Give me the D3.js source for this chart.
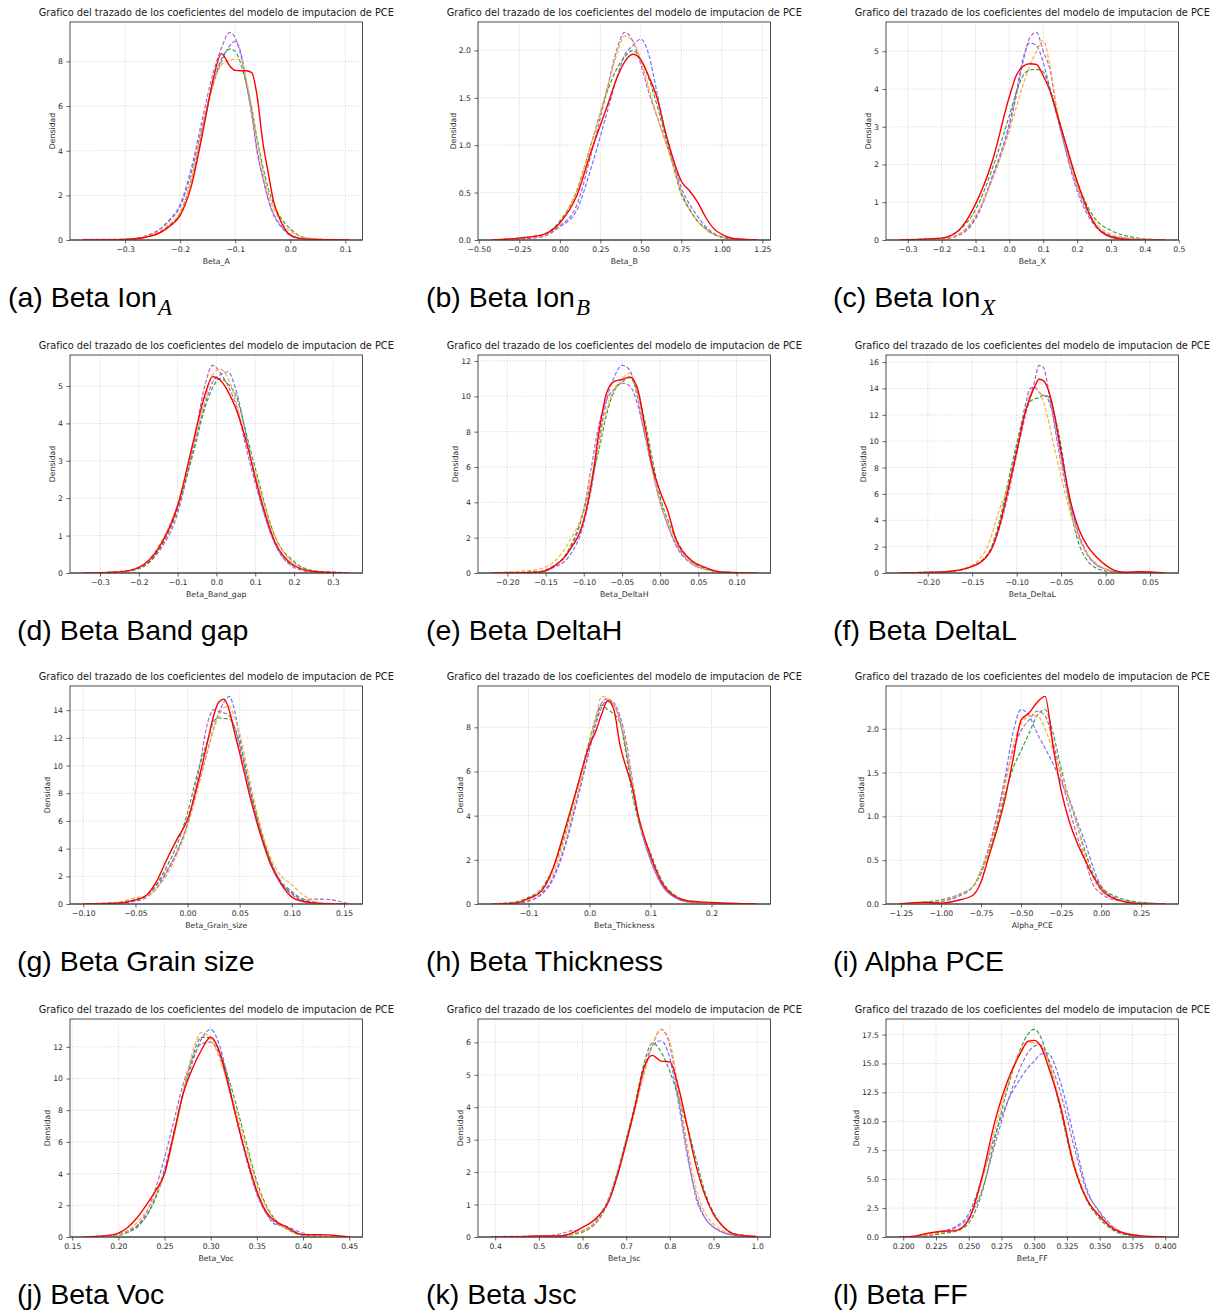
<!DOCTYPE html>
<html lang="es">
<head>
<meta charset="utf-8">
<title>Coeficientes del modelo de imputacion de PCE</title>
<script src="https://cdn.jsdelivr.net/npm/d3@7"></script>
<style>
  body { margin: 0; background: #ffffff; }
  #chart { display: block; }
</style>
</head>
<body>
<svg id="chart" width="1222" height="1314"></svg>
<script>
// ---------------------------------------------------------------
// data: kde curves, one x grid per panel and
// five density series per panel (4 dashed imputations + the red one)
// ---------------------------------------------------------------
const seriesNames = ["imputacion_1", "imputacion_2", "imputacion_3", "imputacion_4", "referencia"];

const title = "Grafico del trazado de los coeficientes del modelo de imputacion de PCE";
const yLabel = "Densidad";
const xLabels = ["Beta_A", "Beta_B", "Beta_X", "Beta_Band_gap", "Beta_DeltaH", "Beta_DeltaL",
                 "Beta_Grain_size", "Beta_Thickness", "Alpha_PCE", "Beta_Voc", "Beta_Jsc", "Beta_FF"];
const captions = ["(a) Beta Ion", "(b) Beta Ion", "(c) Beta Ion", "(d) Beta Band gap", "(e) Beta DeltaH",
                  "(f) Beta DeltaL", "(g) Beta Grain size", "(h) Beta Thickness", "(i) Alpha PCE",
                  "(j) Beta Voc", "(k) Beta Jsc", "(l) Beta FF"];
const captionSubs = ["A", "B", "X", "", "", "", "", "", "", "", "", ""];

// (a) Beta_A
const gridA = [-0.376, -0.3, -0.25, -0.22, -0.2, -0.18, -0.16, -0.14, -0.125, -0.11, -0.1, -0.09, -0.08, -0.07, -0.06, -0.05, -0.04, -0.03, -0.02, -0.01, 0, 0.02, 0.05, 0.107];
const densA = [
  [0.01, 0.03, 0.3, 0.85, 1.5, 3.0, 5.1, 7.0, 8.0, 8.7, 8.9, 8.4, 7.1, 5.7, 4.0, 2.8, 1.8, 1.1, 0.7, 0.4, 0.2, 0.05, 0.01, 0],
  [0.03, 0.03, 0.3, 0.9, 1.6, 3.2, 5.4, 7.5, 8.6, 9.3, 9.05, 8.3, 7.0, 5.6, 3.9, 2.8, 1.85, 1.15, 0.75, 0.45, 0.25, 0.07, 0.01, 0],
  [0, 0.02, 0.2, 0.65, 1.2, 2.7, 4.9, 7.0, 8.1, 8.55, 8.45, 7.9, 7.0, 5.9, 4.5, 3.3, 2.3, 1.6, 1.1, 0.75, 0.5, 0.15, 0.03, 0],
  [0, 0.03, 0.25, 0.7, 1.25, 2.7, 5.0, 7.0, 7.85, 8.05, 8.1, 8.05, 7.2, 5.9, 4.4, 3.1, 2.1, 1.4, 0.95, 0.6, 0.4, 0.15, 0.05, 0.01],
  [0, 0.02, 0.2, 0.6, 1.1, 2.4, 4.7, 7.2, 8.35, 7.8, 7.6, 7.58, 7.58, 7.5, 6.4, 4.4, 3.0, 1.7, 1.0, 0.5, 0.22, 0.06, 0.02, 0]
];
const xTicksA = [-0.3, -0.2, -0.1, 0, 0.1];
const yTicksA = [0, 2, 4, 6, 8];

// (b) Beta_B
const gridB = [-0.423, -0.25, -0.1, 0, 0.1, 0.2, 0.3, 0.35, 0.4, 0.45, 0.5, 0.55, 0.6, 0.65, 0.7, 0.75, 0.8, 0.85, 0.9, 0.95, 1.0, 1.1, 1.218];
const densB = [
  [0, 0.01, 0.04, 0.14, 0.3, 0.8, 1.4, 1.7, 1.95, 2.05, 2.12, 1.95, 1.55, 1.15, 0.85, 0.55, 0.38, 0.25, 0.14, 0.07, 0.03, 0.01, 0],
  [0, 0.01, 0.04, 0.15, 0.35, 0.95, 1.65, 2.0, 2.19, 2.1, 1.85, 1.55, 1.3, 1.05, 0.8, 0.5, 0.33, 0.2, 0.12, 0.06, 0.03, 0, 0],
  [0, 0.02, 0.06, 0.2, 0.5, 1.05, 1.6, 1.8, 1.93, 2.0, 1.9, 1.7, 1.42, 1.1, 0.78, 0.48, 0.32, 0.2, 0.12, 0.06, 0.03, 0.01, 0],
  [0, 0.02, 0.05, 0.18, 0.5, 1.05, 1.65, 1.95, 2.15, 2.1, 1.9, 1.6, 1.3, 1.05, 0.78, 0.5, 0.33, 0.2, 0.11, 0.06, 0.03, 0.01, 0],
  [0, 0.02, 0.06, 0.18, 0.45, 0.97, 1.45, 1.7, 1.88, 1.96, 1.9, 1.72, 1.5, 1.15, 0.85, 0.62, 0.52, 0.4, 0.24, 0.12, 0.06, 0.01, 0]
];
const xTicksB = [-0.5, -0.25, 0, 0.25, 0.5, 0.75, 1.0, 1.25];
const yTicksB = [0, 0.5, 1.0, 1.5, 2.0];

// (c) Beta_X
const gridC = [-0.325, -0.2, -0.15, -0.1, -0.05, 0, 0.02, 0.04, 0.06, 0.08, 0.1, 0.12, 0.14, 0.16, 0.2, 0.25, 0.3, 0.35, 0.4, 0.46];
const densC = [
  [0, 0.03, 0.15, 0.6, 1.7, 3.1, 3.9, 4.8, 5.22, 5.15, 4.7, 4.0, 3.3, 2.6, 1.4, 0.45, 0.12, 0.05, 0.02, 0],
  [0, 0.02, 0.12, 0.55, 1.65, 3.0, 3.8, 4.7, 5.35, 5.5, 5.0, 4.5, 3.4, 2.6, 1.3, 0.4, 0.1, 0.03, 0.01, 0],
  [0.01, 0.05, 0.25, 0.8, 1.9, 3.3, 3.9, 4.35, 4.5, 4.52, 4.45, 4.0, 3.4, 2.75, 1.55, 0.6, 0.25, 0.1, 0.03, 0],
  [0, 0.03, 0.15, 0.65, 1.6, 2.9, 3.5, 4.1, 4.6, 5.0, 5.28, 4.6, 3.5, 2.7, 1.45, 0.5, 0.15, 0.05, 0.02, 0],
  [0, 0.05, 0.25, 0.95, 2.1, 3.8, 4.35, 4.6, 4.67, 4.65, 4.35, 3.95, 3.35, 2.75, 1.55, 0.45, 0.08, 0.01, 0, 0]
];
const xTicksC = [-0.3, -0.2, -0.1, 0, 0.1, 0.2, 0.3, 0.4, 0.5];
const yTicksC = [0, 1, 2, 3, 4, 5];

// (d) Beta_Band_gap
const gridD = [-0.343, -0.25, -0.2, -0.15, -0.1, -0.06, -0.03, -0.01, 0.01, 0.03, 0.05, 0.08, 0.1, 0.15, 0.2, 0.25, 0.3, 0.342];
const densD = [
  [0, 0.02, 0.12, 0.6, 1.7, 3.3, 4.5, 5.1, 5.3, 5.38, 4.9, 3.5, 2.5, 0.8, 0.18, 0.05, 0.03, 0],
  [0, 0.03, 0.12, 0.55, 1.6, 3.4, 5.0, 5.55, 5.35, 5.0, 4.5, 3.2, 2.4, 0.8, 0.15, 0.02, 0.01, 0],
  [0, 0.04, 0.12, 0.6, 1.75, 3.2, 4.4, 4.95, 5.2, 5.05, 4.75, 3.6, 2.8, 1.0, 0.3, 0.06, 0.01, 0],
  [0, 0.03, 0.15, 0.7, 1.85, 3.4, 4.6, 5.3, 5.45, 5.2, 4.6, 3.35, 2.65, 1.0, 0.25, 0.05, 0.01, 0],
  [0, 0.03, 0.15, 0.65, 1.8, 3.5, 4.75, 5.25, 5.15, 4.85, 4.4, 3.4, 2.55, 0.85, 0.2, 0.04, 0.01, 0]
];
const xTicksD = [-0.3, -0.2, -0.1, 0, 0.1, 0.2, 0.3];
const yTicksD = [0, 1, 2, 3, 4, 5];

// (e) Beta_DeltaH
const gridE = [-0.221, -0.16, -0.14, -0.12, -0.1, -0.09, -0.08, -0.07, -0.06, -0.05, -0.04, -0.03, -0.02, -0.01, 0, 0.01, 0.02, 0.04, 0.06, 0.08, 0.127];
const densE = [
  [0.02, 0.05, 0.3, 0.9, 2.8, 4.8, 7.5, 9.8, 11.1, 11.75, 11.5, 10.0, 7.8, 5.8, 4.0, 2.7, 1.7, 0.6, 0.2, 0.08, 0],
  [0.02, 0.08, 0.4, 1.2, 3.6, 6.0, 8.4, 9.8, 10.4, 10.75, 10.6, 9.6, 7.8, 5.8, 4.0, 2.7, 1.6, 0.55, 0.2, 0.05, 0],
  [0, 0.06, 0.35, 1.3, 3.5, 5.2, 7.0, 9.0, 10.3, 10.8, 11.05, 10.3, 8.6, 6.4, 4.3, 3.0, 2.0, 0.7, 0.25, 0.05, 0],
  [0.01, 0.2, 0.6, 1.7, 3.6, 5.4, 7.4, 9.3, 10.4, 11.0, 11.3, 10.2, 8.0, 5.8, 4.0, 2.8, 1.8, 0.6, 0.2, 0.05, 0],
  [0, 0.05, 0.35, 1.2, 3.0, 5.0, 8.0, 10.2, 10.85, 10.95, 11.1, 10.5, 8.3, 6.0, 4.6, 3.5, 2.0, 0.75, 0.3, 0.05, 0]
];
const xTicksE = [-0.2, -0.15, -0.1, -0.05, 0, 0.05, 0.1];
const yTicksE = [0, 2, 4, 6, 8, 10, 12];

// (f) Beta_DeltaL
const gridF = [-0.232, -0.18, -0.15, -0.13, -0.12, -0.11, -0.1, -0.09, -0.085, -0.08, -0.075, -0.07, -0.065, -0.06, -0.05, -0.04, -0.03, -0.02, -0.01, 0, 0.01, 0.02, 0.04, 0.067];
const densF = [
  [0.01, 0.1, 0.5, 1.7, 3.5, 6.3, 9.6, 12.8, 14.0, 14.1, 13.7, 13.5, 13.2, 12.2, 8.8, 5.5, 2.9, 1.4, 0.6, 0.3, 0.1, 0.04, 0.02, 0],
  [0.02, 0.1, 0.5, 1.6, 3.3, 5.8, 9.0, 12.0, 13.3, 14.5, 15.75, 15.6, 14.2, 12.2, 8.3, 5.2, 2.8, 1.3, 0.6, 0.3, 0.1, 0.05, 0.02, 0],
  [0.02, 0.1, 0.5, 1.7, 3.8, 6.8, 9.8, 12.3, 13.0, 13.2, 13.3, 13.5, 13.4, 12.6, 9.6, 5.0, 2.2, 0.9, 0.35, 0.15, 0.05, 0.02, 0, 0],
  [0.01, 0.1, 0.6, 2.5, 4.7, 6.5, 9.2, 12.3, 13.6, 14.0, 13.8, 13.0, 11.8, 10.2, 7.3, 4.6, 2.6, 1.4, 0.7, 0.3, 0.1, 0.04, 0.01, 0],
  [0, 0.1, 0.5, 1.6, 3.4, 6.2, 9.2, 12.3, 13.3, 14.1, 14.7, 14.6, 14.0, 12.8, 9.2, 5.6, 3.3, 2.0, 1.2, 0.6, 0.2, 0.06, 0.1, 0]
];
const xTicksF = [-0.2, -0.15, -0.1, -0.05, 0, 0.05];
const yTicksF = [0, 2, 4, 6, 8, 10, 12, 14, 16];

// (g) Beta_Grain_size
const gridG = [-0.1, -0.07, -0.05, -0.04, -0.03, -0.02, -0.01, 0, 0.01, 0.02, 0.025, 0.03, 0.035, 0.04, 0.045, 0.05, 0.06, 0.07, 0.08, 0.09, 0.1, 0.11, 0.12, 0.13, 0.155];
const densG = [
  [0.01, 0.05, 0.2, 0.45, 1.1, 2.3, 3.8, 5.8, 8.5, 11.3, 12.7, 13.8, 14.6, 15.0, 14.0, 12.0, 8.2, 5.2, 3.0, 1.6, 0.9, 0.4, 0.15, 0.05, 0],
  [0.01, 0.08, 0.3, 0.6, 1.3, 2.4, 3.8, 5.8, 9.3, 13.3, 14.05, 13.9, 13.8, 13.6, 12.8, 11.3, 8.0, 5.2, 3.0, 1.5, 0.7, 0.3, 0.35, 0.35, 0],
  [0.02, 0.1, 0.3, 0.6, 1.4, 2.7, 4.3, 6.6, 9.6, 12.0, 13.2, 13.45, 13.4, 13.35, 12.8, 11.6, 8.4, 5.4, 3.0, 1.5, 0.8, 0.3, 0.1, 0.03, 0],
  [0.02, 0.1, 0.45, 0.6, 1.1, 2.1, 3.6, 5.6, 8.4, 11.3, 12.6, 13.6, 14.2, 14.3, 13.5, 12.3, 8.8, 5.6, 3.3, 2.0, 1.4, 0.7, 0.25, 0.08, 0],
  [0, 0.05, 0.3, 0.6, 1.6, 3.2, 4.7, 6.1, 8.8, 12.0, 13.6, 14.6, 14.8, 14.0, 12.4, 10.9, 7.7, 5.0, 2.8, 1.4, 0.5, 0.2, 0.08, 0.02, 0]
];
const xTicksG = [-0.1, -0.05, 0, 0.05, 0.1, 0.15];
const yTicksG = [0, 2, 4, 6, 8, 10, 12, 14];

// (h) Beta_Thickness
const gridH = [-0.161, -0.12, -0.1, -0.08, -0.06, -0.04, -0.02, 0, 0.01, 0.02, 0.03, 0.04, 0.05, 0.06, 0.07, 0.08, 0.1, 0.12, 0.14, 0.16, 0.2, 0.275];
const densH = [
  [0.02, 0.04, 0.15, 0.4, 1.1, 2.6, 4.7, 7.0, 8.2, 9.1, 9.3, 9.0, 8.3, 7.0, 5.4, 3.9, 2.0, 0.8, 0.3, 0.1, 0.03, 0],
  [0.01, 0.03, 0.12, 0.45, 1.2, 2.7, 4.8, 7.0, 8.1, 8.9, 9.2, 9.1, 8.5, 7.4, 5.7, 4.0, 2.0, 0.8, 0.3, 0.1, 0.03, 0.01],
  [0.01, 0.1, 0.3, 0.65, 1.6, 3.2, 5.3, 7.4, 8.4, 9.0, 8.8, 8.6, 8.2, 6.8, 5.0, 3.8, 2.3, 1.0, 0.4, 0.15, 0.04, 0],
  [0.01, 0.07, 0.2, 0.6, 1.4, 3.0, 5.0, 7.3, 8.4, 9.4, 9.3, 9.0, 8.3, 7.2, 5.6, 4.0, 2.2, 0.9, 0.35, 0.12, 0.04, 0],
  [0, 0.05, 0.25, 0.55, 1.6, 3.4, 5.3, 7.2, 7.8, 8.6, 9.2, 8.8, 7.2, 6.2, 5.3, 4.0, 2.2, 0.9, 0.35, 0.15, 0.07, 0]
];
const xTicksH = [-0.1, 0, 0.1, 0.2];
const yTicksH = [0, 2, 4, 6, 8];

// (i) Alpha_PCE
const gridI = [-1.26, -1.1, -1.0, -0.9, -0.8, -0.75, -0.7, -0.65, -0.6, -0.55, -0.5, -0.45, -0.4, -0.35, -0.3, -0.25, -0.2, -0.15, -0.1, -0.05, 0, 0.1, 0.2, 0.3, 0.4];
const densI = [
  [0, 0.01, 0.03, 0.08, 0.2, 0.38, 0.65, 1.0, 1.45, 1.95, 2.22, 2.15, 1.95, 1.78, 1.6, 1.4, 1.2, 0.95, 0.7, 0.42, 0.2, 0.06, 0.02, 0.01, 0],
  [0, 0.01, 0.03, 0.1, 0.2, 0.38, 0.65, 1.0, 1.4, 1.75, 1.98, 2.1, 2.2, 2.15, 1.85, 1.45, 1.1, 0.78, 0.5, 0.22, 0.12, 0.04, 0.02, 0, 0],
  [0, 0.02, 0.05, 0.1, 0.2, 0.35, 0.6, 0.9, 1.25, 1.55, 1.75, 1.95, 2.15, 2.22, 1.95, 1.55, 1.2, 0.9, 0.6, 0.35, 0.2, 0.08, 0.03, 0.01, 0],
  [0, 0.01, 0.04, 0.1, 0.2, 0.38, 0.62, 0.95, 1.35, 1.8, 2.05, 2.15, 2.15, 2.0, 1.75, 1.5, 1.2, 0.9, 0.55, 0.3, 0.15, 0.05, 0.02, 0, 0],
  [0, 0.02, 0.01, 0.04, 0.1, 0.25, 0.55, 0.85, 1.2, 1.65, 2.1, 2.18, 2.3, 2.37, 1.8, 1.3, 0.95, 0.7, 0.5, 0.32, 0.17, 0.05, 0.01, 0, 0]
];
const xTicksI = [-1.25, -1.0, -0.75, -0.5, -0.25, 0, 0.25];
const yTicksI = [0, 0.5, 1.0, 1.5, 2.0];

// (j) Beta_Voc
const gridJ = [0.162, 0.19, 0.2, 0.21, 0.22, 0.23, 0.24, 0.25, 0.26, 0.27, 0.28, 0.29, 0.3, 0.31, 0.32, 0.33, 0.34, 0.35, 0.36, 0.37, 0.38, 0.4, 0.42, 0.45];
const densJ = [
  [0, 0.1, 0.2, 0.4, 0.7, 1.3, 2.5, 4.3, 6.6, 9.0, 11.0, 12.5, 13.1, 12.0, 9.6, 7.0, 4.8, 2.8, 1.5, 0.8, 0.7, 0.25, 0.05, 0],
  [0, 0.1, 0.15, 0.3, 0.7, 1.5, 3.0, 5.0, 7.3, 9.6, 11.2, 12.2, 12.3, 11.4, 9.3, 6.9, 4.6, 2.7, 1.5, 0.9, 0.6, 0.15, 0.05, 0],
  [0, 0.05, 0.1, 0.3, 0.6, 1.3, 2.4, 4.1, 6.4, 9.1, 11.3, 12.6, 12.6, 11.6, 9.9, 7.8, 5.6, 3.5, 2.0, 1.1, 0.6, 0.12, 0.05, 0],
  [0, 0.05, 0.15, 0.4, 0.9, 1.6, 2.6, 4.0, 6.3, 9.0, 11.6, 12.9, 12.5, 11.2, 9.4, 7.4, 5.3, 3.3, 1.9, 1.1, 0.6, 0.15, 0.05, 0],
  [0, 0.1, 0.25, 0.6, 1.2, 2.0, 2.9, 4.0, 6.5, 9.0, 10.6, 11.8, 12.6, 11.6, 9.4, 7.0, 4.8, 2.9, 1.6, 1.0, 0.7, 0.15, 0.15, 0]
];
const xTicksJ = [0.15, 0.2, 0.25, 0.3, 0.35, 0.4, 0.45];
const yTicksJ = [0, 2, 4, 6, 8, 10, 12];

// (k) Beta_Jsc
const gridK = [0.391, 0.45, 0.5, 0.55, 0.58, 0.6, 0.62, 0.64, 0.66, 0.68, 0.7, 0.72, 0.74, 0.76, 0.78, 0.8, 0.82, 0.84, 0.86, 0.88, 0.9, 0.92, 0.95, 1.0];
const densK = [
  [0, 0.01, 0.02, 0.05, 0.12, 0.2, 0.35, 0.7, 1.2, 2.0, 3.0, 4.0, 5.1, 5.9, 6.05, 5.5, 4.1, 2.5, 1.3, 0.6, 0.3, 0.15, 0.05, 0.01],
  [0.01, 0.02, 0.01, 0.1, 0.2, 0.2, 0.3, 0.6, 1.1, 1.9, 3.0, 4.0, 5.0, 5.9, 6.4, 5.9, 4.3, 2.6, 1.2, 0.6, 0.3, 0.15, 0.05, 0.01],
  [0, 0.01, 0.02, 0.03, 0.08, 0.15, 0.3, 0.6, 1.15, 2.0, 3.0, 4.1, 5.3, 5.98, 5.7, 5.1, 4.3, 3.4, 2.4, 1.4, 0.75, 0.35, 0.1, 0.02],
  [0, 0.01, 0.02, 0.04, 0.1, 0.2, 0.33, 0.65, 1.15, 1.9, 2.9, 3.9, 5.0, 5.9, 6.4, 6.0, 4.5, 2.8, 1.5, 0.75, 0.4, 0.2, 0.08, 0.02],
  [0, 0.01, 0.03, 0.03, 0.15, 0.3, 0.45, 0.7, 1.1, 1.9, 2.9, 4.0, 5.2, 5.6, 5.42, 5.4, 4.6, 3.4, 2.2, 1.3, 0.7, 0.35, 0.08, 0.01]
];
const xTicksK = [0.4, 0.5, 0.6, 0.7, 0.8, 0.9, 1.0];
const yTicksK = [0, 1, 2, 3, 4, 5, 6];

// (l) Beta_FF
const gridL = [0.197, 0.21, 0.22, 0.23, 0.24, 0.25, 0.26, 0.27, 0.28, 0.29, 0.295, 0.3, 0.305, 0.31, 0.32, 0.33, 0.34, 0.35, 0.36, 0.37, 0.38, 0.4];
const densL = [
  [0, 0.05, 0.2, 0.5, 0.9, 2.0, 5.0, 8.8, 11.8, 13.8, 14.6, 15.2, 15.8, 15.9, 13.4, 8.8, 4.2, 2.1, 0.7, 0.2, 0.06, 0],
  [0, 0.05, 0.15, 0.35, 0.8, 1.7, 4.0, 8.0, 11.8, 14.8, 15.9, 16.5, 16.6, 15.6, 12.5, 8.0, 4.0, 2.2, 0.9, 0.3, 0.1, 0],
  [0, 0.05, 0.15, 0.3, 0.5, 1.2, 3.8, 8.5, 13.0, 16.4, 17.5, 17.95, 17.3, 15.6, 11.0, 6.2, 3.2, 1.6, 0.6, 0.2, 0.08, 0],
  [0, 0.05, 0.2, 0.4, 0.6, 1.5, 4.8, 9.3, 13.3, 16.2, 16.8, 16.8, 16.5, 15.4, 11.5, 6.6, 3.4, 1.8, 0.8, 0.3, 0.12, 0],
  [0, 0.1, 0.35, 0.5, 0.55, 1.5, 5.1, 10.0, 13.6, 16.0, 16.9, 17.0, 16.5, 15.0, 11.3, 6.3, 3.3, 1.8, 0.75, 0.3, 0.12, 0]
];
const xTicksL = [0.2, 0.225, 0.25, 0.275, 0.3, 0.325, 0.35, 0.375, 0.4];
const yTicksL = [0, 2.5, 5, 7.5, 10, 12.5, 15, 17.5];

const panels = [
  { grid: gridA, dens: densA, xTicks: xTicksA, yTicks: yTicksA, xFmt: ".1f", yFmt: "d" },
  { grid: gridB, dens: densB, xTicks: xTicksB, yTicks: yTicksB, xFmt: ".2f", yFmt: ".1f" },
  { grid: gridC, dens: densC, xTicks: xTicksC, yTicks: yTicksC, xFmt: ".1f", yFmt: "d" },
  { grid: gridD, dens: densD, xTicks: xTicksD, yTicks: yTicksD, xFmt: ".1f", yFmt: "d" },
  { grid: gridE, dens: densE, xTicks: xTicksE, yTicks: yTicksE, xFmt: ".2f", yFmt: "d" },
  { grid: gridF, dens: densF, xTicks: xTicksF, yTicks: yTicksF, xFmt: ".2f", yFmt: "d" },
  { grid: gridG, dens: densG, xTicks: xTicksG, yTicks: yTicksG, xFmt: ".2f", yFmt: "d" },
  { grid: gridH, dens: densH, xTicks: xTicksH, yTicks: yTicksH, xFmt: ".1f", yFmt: "d" },
  { grid: gridI, dens: densI, xTicks: xTicksI, yTicks: yTicksI, xFmt: ".2f", yFmt: ".1f" },
  { grid: gridJ, dens: densJ, xTicks: xTicksJ, yTicks: yTicksJ, xFmt: ".2f", yFmt: "d" },
  { grid: gridK, dens: densK, xTicks: xTicksK, yTicks: yTicksK, xFmt: ".1f", yFmt: "d" },
  { grid: gridL, dens: densL, xTicks: xTicksL, yTicks: yTicksL, xFmt: ".3f", yFmt: ".1f" }
];

// ---------------------------------------------------------------
// layout
// ---------------------------------------------------------------
const colLeft = [70, 478, 886];
const rowTop = [22, 355, 686, 1019];
const W = 292.5, H = 218;
const captionLeft = [[8, 426, 833], [17, 426, 833], [17, 426, 833], [17, 426, 833]];
const titleWidth = 356;

const lineColor = ["#7272ff", "#b163c9", "#3f9e3f", "#ffae35", "#ff0000"];
const lineDash = ["4,2", "4,2", "4,2", "4,2", null];
const lineWidth = [1.2, 1.2, 1.2, 1.2, 1.4];
const textFont = "'DejaVu Sans', sans-serif";

const svg = d3.select("#chart");
svg.append("rect").attr("width", 1222).attr("height", 1314).attr("fill", "#fff");

panels.forEach(function(p, i)
{
    const col = i % 3, row = Math.floor(i / 3);
    const g = svg.append("g")
        .attr("transform", "translate(" + colLeft[col] + "," + rowTop[row] + ")");

    // matplotlib-like autoscale: 5% margin in x, 5% headroom on top
    const lo = d3.min(p.grid), hi = d3.max(p.grid), pad = (hi - lo) * 0.05;
    const x = d3.scaleLinear().domain([lo - pad, hi + pad]).range([0, W]);
    const yMax = d3.max(p.dens, function(s) { return d3.max(s); }) * 1.05;
    const y = d3.scaleLinear().domain([0, yMax]).range([H, 0]);

    // grid
    const grid = g.append("g")
        .attr("stroke", "#c8c8c8").attr("stroke-width", 0.7)
        .attr("stroke-dasharray", "1.2,1.4");
    grid.selectAll(".gx").data(p.xTicks).enter().append("line")
        .attr("x1", function(d) { return x(d); }).attr("x2", function(d) { return x(d); })
        .attr("y1", 0).attr("y2", H);
    grid.selectAll(".gy").data(p.yTicks).enter().append("line")
        .attr("x1", 0).attr("x2", W)
        .attr("y1", function(d) { return y(d); }).attr("y2", function(d) { return y(d); });

    // curves
    const clipId = "clip" + i;
    g.append("clipPath").attr("id", clipId)
        .append("rect").attr("width", W).attr("height", H);
    const line = d3.line()
        .x(function(d) { return x(d[0]); })
        .y(function(d) { return y(d[1]); })
        .curve(d3.curveMonotoneX);

    // zero line (the flat tails of all curves pile up here)
    g.append("line")
        .attr("x1", 0).attr("x2", W).attr("y1", y(0)).attr("y2", y(0))
        .attr("stroke", "#a3a3a3").attr("stroke-width", 1.8);

    const curves = g.append("g").attr("clip-path", "url(#" + clipId + ")");
    p.dens.forEach(function(serie, k)
    {
        const pts = p.grid.map(function(v, j) { return [v, serie[j]]; });
        curves.append("path")
            .datum(pts)
            .attr("class", "kde " + seriesNames[k])
            .attr("fill", "none")
            .attr("stroke", lineColor[k])
            .attr("stroke-width", lineWidth[k])
            .attr("stroke-dasharray", lineDash[k])
            .attr("d", line);
    });

    // frame
    g.append("rect")
        .attr("width", W).attr("height", H)
        .attr("fill", "none").attr("stroke", "#3a3a3a").attr("stroke-width", 0.9);

    // axes
    const xAxis = g.append("g")
        .attr("transform", "translate(0," + H + ")")
        .call(d3.axisBottom(x).tickValues(p.xTicks).tickFormat(d3.format(p.xFmt))
            .tickSize(3.5).tickSizeOuter(0).tickPadding(3));
    const yAxis = g.append("g")
        .call(d3.axisLeft(y).tickValues(p.yTicks).tickFormat(d3.format(p.yFmt))
            .tickSize(3.5).tickSizeOuter(0).tickPadding(3.5));
    [xAxis, yAxis].forEach(function(a)
    {
        a.select(".domain").remove();
        a.attr("font-family", textFont).attr("font-size", 7.7);
        a.selectAll(".tick line").attr("stroke", "#3a3a3a").attr("stroke-width", 0.8);
        a.selectAll(".tick text").attr("fill", "#2e2e2e");
    });

    // axis labels
    g.append("text")
        .attr("x", W / 2).attr("y", H + 23.5)
        .attr("text-anchor", "middle")
        .attr("font-family", textFont).attr("font-size", 7.8).attr("fill", "#2e2e2e")
        .text(xLabels[i]);
    const bb = yAxis.node().getBBox();
    g.append("text")
        .attr("transform", "translate(" + (bb.x - 3.2) + "," + (H / 2) + ") rotate(-90)")
        .attr("text-anchor", "middle")
        .attr("font-family", textFont).attr("font-size", 7.8).attr("fill", "#2e2e2e")
        .text(yLabel);

    // title, fitted to the width it has in the figure
    const t = g.append("text")
        .attr("x", W / 2).attr("y", -6)
        .attr("text-anchor", "middle")
        .attr("font-family", textFont).attr("font-size", 10).attr("fill", "#1a1a1a")
        .text(title);
    const tw = t.node().getComputedTextLength();
    t.attr("font-size", 10 * titleWidth / tw);

    // sub-figure caption
    const cap = svg.append("text")
        .attr("x", captionLeft[row][col])
        .attr("y", rowTop[row] + H + 67)
        .attr("font-family", "'Liberation Sans', Arial, sans-serif")
        .attr("font-size", 28.5).attr("fill", "#000");
    cap.append("tspan").text(captions[i]);
    if (captionSubs[i])
    {
        cap.append("tspan")
            .attr("dx", 1)
            .attr("dy", 7.5)
            .attr("font-family", "'Liberation Serif', 'DejaVu Serif', serif")
            .attr("font-style", "italic")
            .attr("font-size", 23)
            .text(captionSubs[i]);
    }
});
</script>
</body>
</html>
